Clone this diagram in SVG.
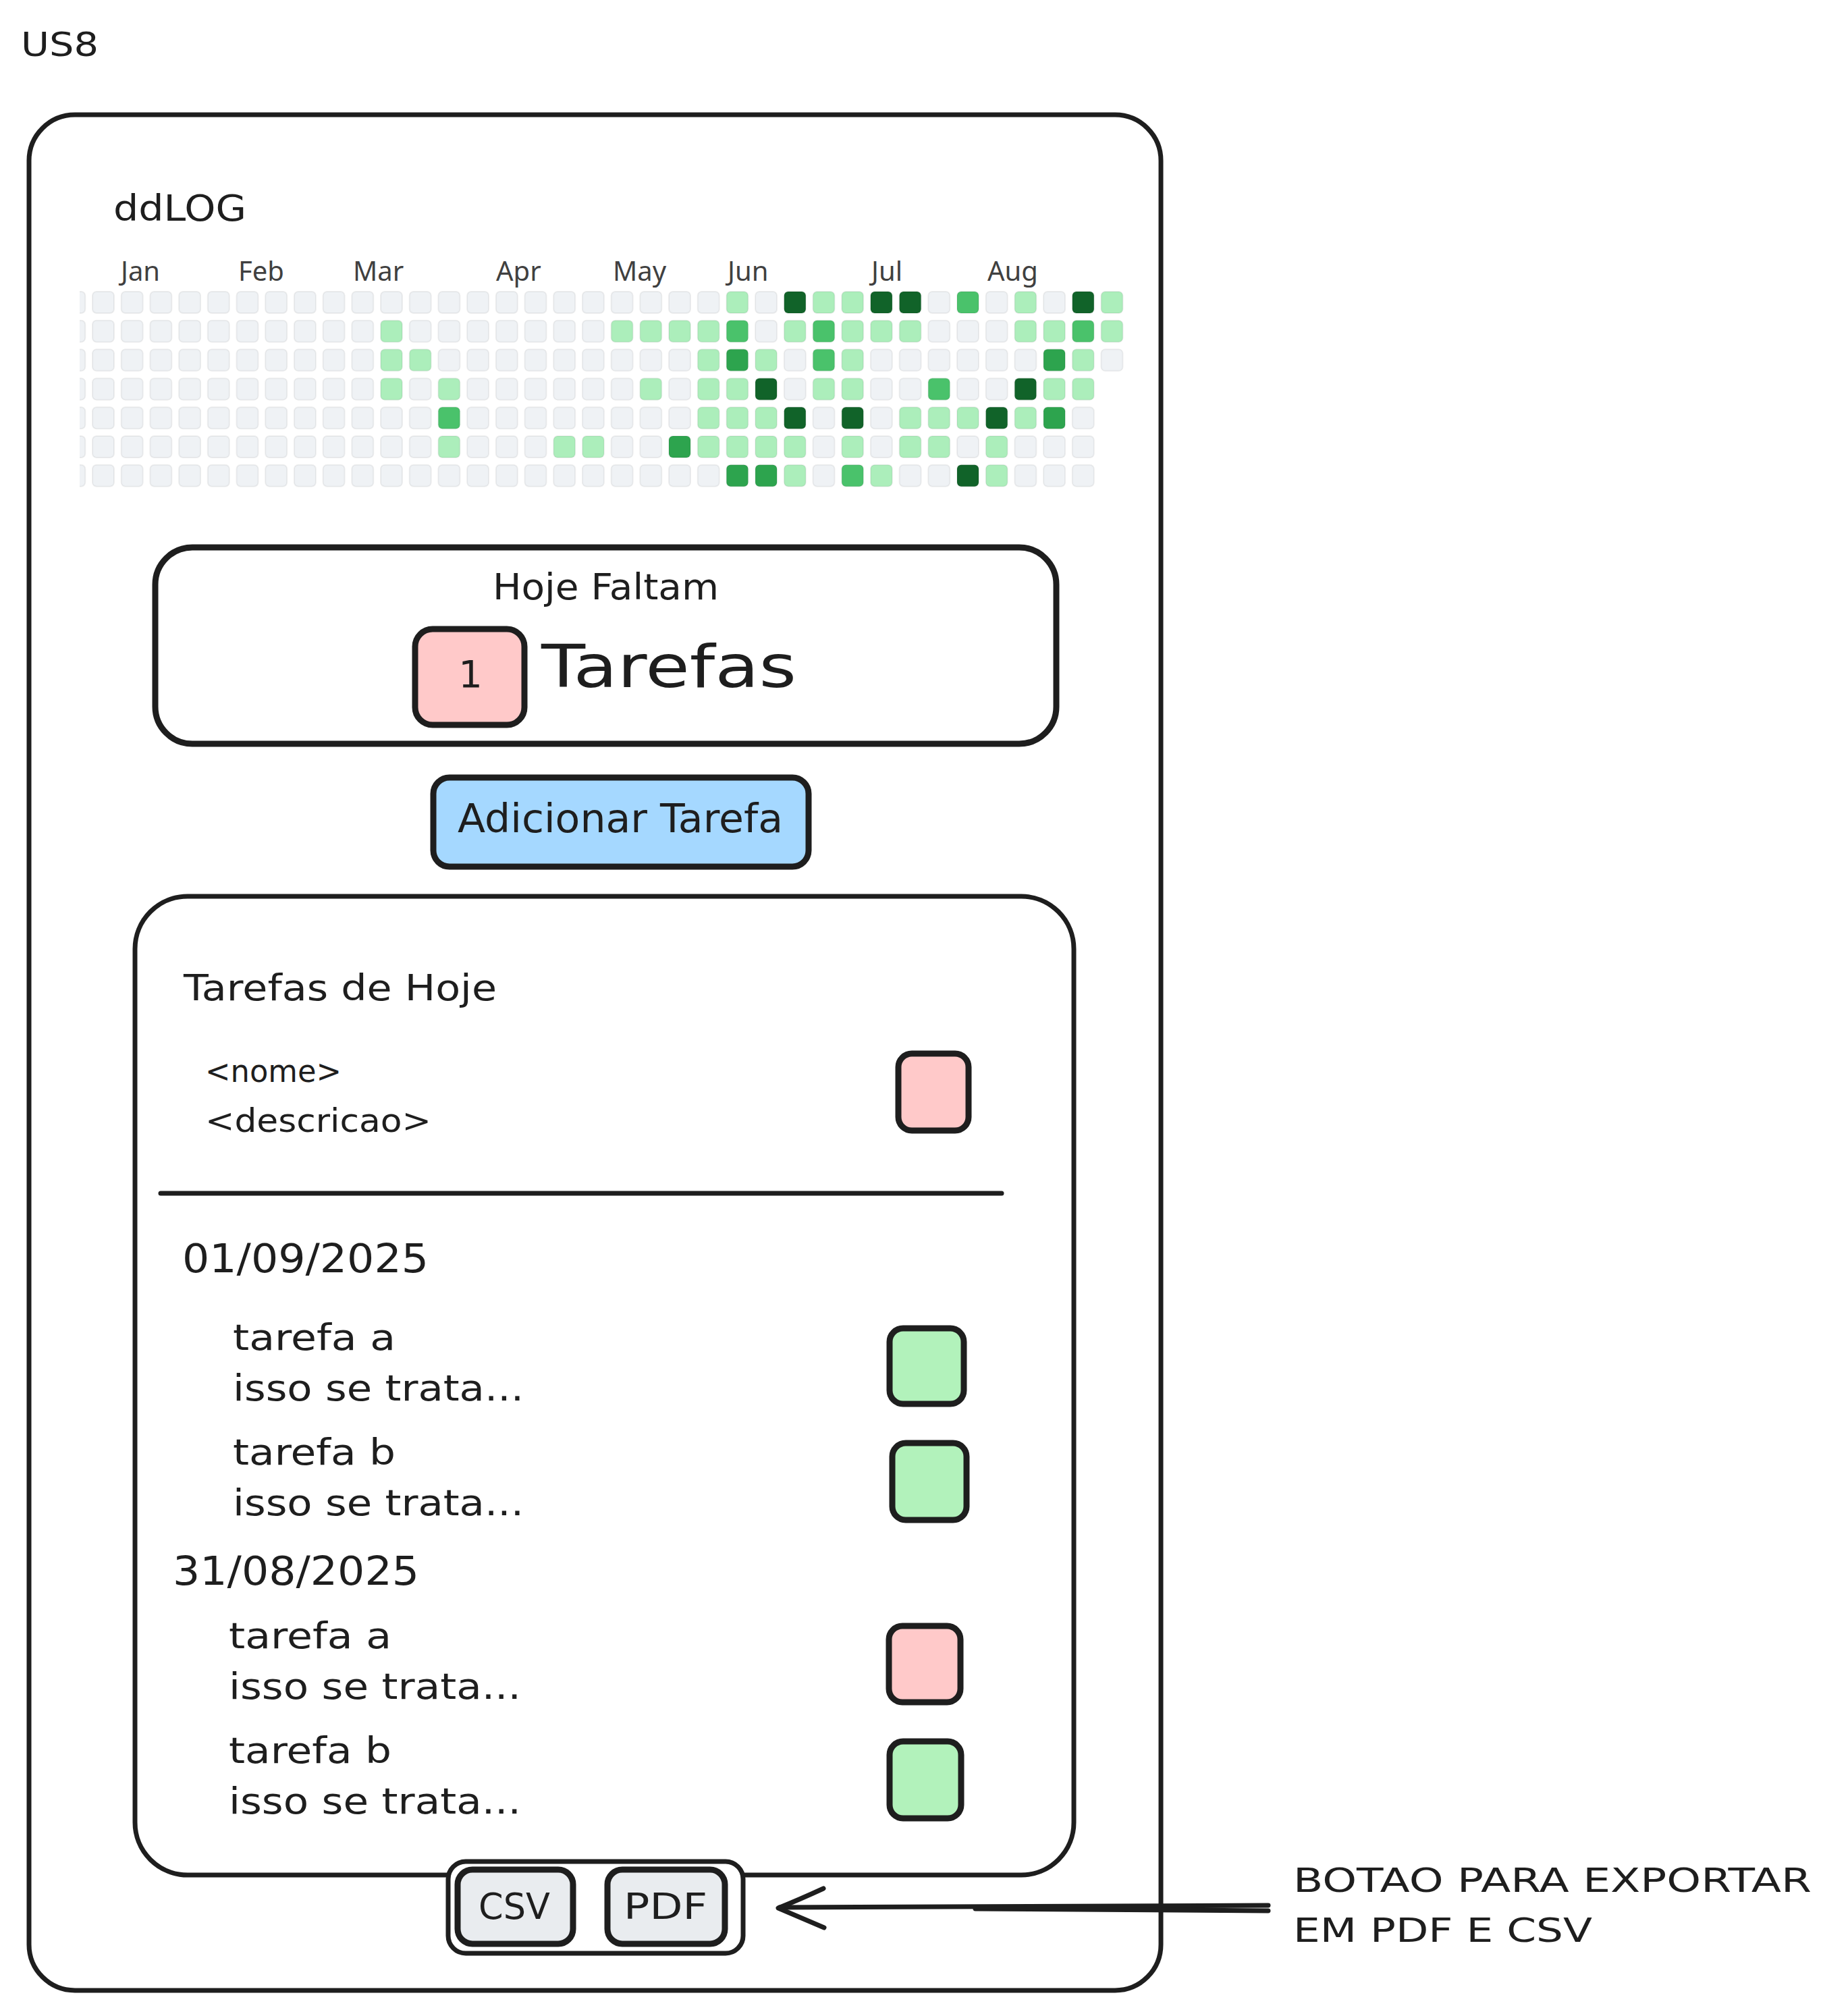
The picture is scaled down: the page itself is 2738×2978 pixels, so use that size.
<svg xmlns="http://www.w3.org/2000/svg" xmlns:xlink="http://www.w3.org/1999/xlink" width="2738" height="2978" viewBox="0 0 2738 2978">
<style>
.hand{font-family:"DejaVu Sans","Liberation Sans",sans-serif;fill:#1e1e1e}
.month{font-family:"Noto Sans","Liberation Sans",sans-serif;font-size:40px;fill:#404040}
.box{stroke:#1e1e1e;stroke-width:7;stroke-linejoin:round}
.thick{stroke-width:9}
.pink{fill:#ffc9c9}
.green{fill:#b2f2bb}
.blue{fill:#a5d8ff}
.grey{fill:#e9ecef}
.white{fill:#ffffff}
.c1{fill:#aceebb}
.c2{fill:#4ac26b}
.c3{fill:#2da44e}
.c4{fill:#116329}
.conn{stroke:#1e1e1e;stroke-width:7;fill:none;stroke-linecap:round;stroke-linejoin:round}
</style>
<defs>
<rect id="cell" width="32" height="32" rx="6" stroke="#000000" stroke-opacity="0.06" stroke-width="2"/>
<clipPath id="hmclip"><rect x="118" y="420" width="1600" height="320"/></clipPath>
</defs>
<rect x="0" y="0" width="2738" height="2978" fill="#ffffff"/>

<g id="title">
<text class="hand" x="31" y="83" font-size="50" textLength="115" lengthAdjust="spacingAndGlyphs">US8</text>
</g>

<g id="frame">
<rect class="box white" x="43" y="170" width="1677" height="2779" rx="68"/>
</g>

<g id="app-name">
<text class="hand" x="168" y="327" font-size="54" textLength="197" lengthAdjust="spacingAndGlyphs">ddLOG</text>
</g>

<g id="heatmap">
<g id="months">
<text class="month" x="179" y="416">Jan</text>
<text class="month" x="353" y="416">Feb</text>
<text class="month" x="523" y="416">Mar</text>
<text class="month" x="735" y="416">Apr</text>
<text class="month" x="908" y="416">May</text>
<text class="month" x="1078" y="416">Jun</text>
<text class="month" x="1291" y="416">Jul</text>
<text class="month" x="1463" y="416">Aug</text>
</g>
<g clip-path="url(#hmclip)" fill="#eff2f5">
<g transform="translate(0,432)">
<use href="#cell" x="94.3"/><use href="#cell" x="137"/><use href="#cell" x="179.7"/><use href="#cell" x="222.4"/><use href="#cell" x="265.1"/><use href="#cell" x="307.8"/><use href="#cell" x="350.5"/><use href="#cell" x="393.2"/><use href="#cell" x="435.9"/><use href="#cell" x="478.6"/><use href="#cell" x="521.3"/><use href="#cell" x="564"/><use href="#cell" x="606.7"/><use href="#cell" x="649.4"/><use href="#cell" x="692.1"/><use href="#cell" x="734.8"/><use href="#cell" x="777.5"/><use href="#cell" x="820.2"/><use href="#cell" x="862.9"/><use href="#cell" x="905.6"/><use href="#cell" x="948.3"/><use href="#cell" x="991"/><use href="#cell" x="1033.7"/><use href="#cell" x="1076.4" class="c1"/><use href="#cell" x="1119.1"/><use href="#cell" x="1161.8" class="c4"/><use href="#cell" x="1204.5" class="c1"/><use href="#cell" x="1247.2" class="c1"/><use href="#cell" x="1289.9" class="c4"/><use href="#cell" x="1332.6" class="c4"/><use href="#cell" x="1375.3"/><use href="#cell" x="1418" class="c2"/><use href="#cell" x="1460.7"/><use href="#cell" x="1503.4" class="c1"/><use href="#cell" x="1546.1"/><use href="#cell" x="1588.8" class="c4"/><use href="#cell" x="1631.5" class="c1"/>
</g>
<g transform="translate(0,474.8)">
<use href="#cell" x="94.3"/><use href="#cell" x="137"/><use href="#cell" x="179.7"/><use href="#cell" x="222.4"/><use href="#cell" x="265.1"/><use href="#cell" x="307.8"/><use href="#cell" x="350.5"/><use href="#cell" x="393.2"/><use href="#cell" x="435.9"/><use href="#cell" x="478.6"/><use href="#cell" x="521.3"/><use href="#cell" x="564" class="c1"/><use href="#cell" x="606.7"/><use href="#cell" x="649.4"/><use href="#cell" x="692.1"/><use href="#cell" x="734.8"/><use href="#cell" x="777.5"/><use href="#cell" x="820.2"/><use href="#cell" x="862.9"/><use href="#cell" x="905.6" class="c1"/><use href="#cell" x="948.3" class="c1"/><use href="#cell" x="991" class="c1"/><use href="#cell" x="1033.7" class="c1"/><use href="#cell" x="1076.4" class="c2"/><use href="#cell" x="1119.1"/><use href="#cell" x="1161.8" class="c1"/><use href="#cell" x="1204.5" class="c2"/><use href="#cell" x="1247.2" class="c1"/><use href="#cell" x="1289.9" class="c1"/><use href="#cell" x="1332.6" class="c1"/><use href="#cell" x="1375.3"/><use href="#cell" x="1418"/><use href="#cell" x="1460.7"/><use href="#cell" x="1503.4" class="c1"/><use href="#cell" x="1546.1" class="c1"/><use href="#cell" x="1588.8" class="c2"/><use href="#cell" x="1631.5" class="c1"/>
</g>
<g transform="translate(0,517.6)">
<use href="#cell" x="94.3"/><use href="#cell" x="137"/><use href="#cell" x="179.7"/><use href="#cell" x="222.4"/><use href="#cell" x="265.1"/><use href="#cell" x="307.8"/><use href="#cell" x="350.5"/><use href="#cell" x="393.2"/><use href="#cell" x="435.9"/><use href="#cell" x="478.6"/><use href="#cell" x="521.3"/><use href="#cell" x="564" class="c1"/><use href="#cell" x="606.7" class="c1"/><use href="#cell" x="649.4"/><use href="#cell" x="692.1"/><use href="#cell" x="734.8"/><use href="#cell" x="777.5"/><use href="#cell" x="820.2"/><use href="#cell" x="862.9"/><use href="#cell" x="905.6"/><use href="#cell" x="948.3"/><use href="#cell" x="991"/><use href="#cell" x="1033.7" class="c1"/><use href="#cell" x="1076.4" class="c3"/><use href="#cell" x="1119.1" class="c1"/><use href="#cell" x="1161.8"/><use href="#cell" x="1204.5" class="c2"/><use href="#cell" x="1247.2" class="c1"/><use href="#cell" x="1289.9"/><use href="#cell" x="1332.6"/><use href="#cell" x="1375.3"/><use href="#cell" x="1418"/><use href="#cell" x="1460.7"/><use href="#cell" x="1503.4"/><use href="#cell" x="1546.1" class="c3"/><use href="#cell" x="1588.8" class="c1"/><use href="#cell" x="1631.5"/>
</g>
<g transform="translate(0,560.4)">
<use href="#cell" x="94.3"/><use href="#cell" x="137"/><use href="#cell" x="179.7"/><use href="#cell" x="222.4"/><use href="#cell" x="265.1"/><use href="#cell" x="307.8"/><use href="#cell" x="350.5"/><use href="#cell" x="393.2"/><use href="#cell" x="435.9"/><use href="#cell" x="478.6"/><use href="#cell" x="521.3"/><use href="#cell" x="564" class="c1"/><use href="#cell" x="606.7"/><use href="#cell" x="649.4" class="c1"/><use href="#cell" x="692.1"/><use href="#cell" x="734.8"/><use href="#cell" x="777.5"/><use href="#cell" x="820.2"/><use href="#cell" x="862.9"/><use href="#cell" x="905.6"/><use href="#cell" x="948.3" class="c1"/><use href="#cell" x="991"/><use href="#cell" x="1033.7" class="c1"/><use href="#cell" x="1076.4" class="c1"/><use href="#cell" x="1119.1" class="c4"/><use href="#cell" x="1161.8"/><use href="#cell" x="1204.5" class="c1"/><use href="#cell" x="1247.2" class="c1"/><use href="#cell" x="1289.9"/><use href="#cell" x="1332.6"/><use href="#cell" x="1375.3" class="c2"/><use href="#cell" x="1418"/><use href="#cell" x="1460.7"/><use href="#cell" x="1503.4" class="c4"/><use href="#cell" x="1546.1" class="c1"/><use href="#cell" x="1588.8" class="c1"/>
</g>
<g transform="translate(0,603.2)">
<use href="#cell" x="94.3"/><use href="#cell" x="137"/><use href="#cell" x="179.7"/><use href="#cell" x="222.4"/><use href="#cell" x="265.1"/><use href="#cell" x="307.8"/><use href="#cell" x="350.5"/><use href="#cell" x="393.2"/><use href="#cell" x="435.9"/><use href="#cell" x="478.6"/><use href="#cell" x="521.3"/><use href="#cell" x="564"/><use href="#cell" x="606.7"/><use href="#cell" x="649.4" class="c2"/><use href="#cell" x="692.1"/><use href="#cell" x="734.8"/><use href="#cell" x="777.5"/><use href="#cell" x="820.2"/><use href="#cell" x="862.9"/><use href="#cell" x="905.6"/><use href="#cell" x="948.3"/><use href="#cell" x="991"/><use href="#cell" x="1033.7" class="c1"/><use href="#cell" x="1076.4" class="c1"/><use href="#cell" x="1119.1" class="c1"/><use href="#cell" x="1161.8" class="c4"/><use href="#cell" x="1204.5"/><use href="#cell" x="1247.2" class="c4"/><use href="#cell" x="1289.9"/><use href="#cell" x="1332.6" class="c1"/><use href="#cell" x="1375.3" class="c1"/><use href="#cell" x="1418" class="c1"/><use href="#cell" x="1460.7" class="c4"/><use href="#cell" x="1503.4" class="c1"/><use href="#cell" x="1546.1" class="c3"/><use href="#cell" x="1588.8"/>
</g>
<g transform="translate(0,646)">
<use href="#cell" x="94.3"/><use href="#cell" x="137"/><use href="#cell" x="179.7"/><use href="#cell" x="222.4"/><use href="#cell" x="265.1"/><use href="#cell" x="307.8"/><use href="#cell" x="350.5"/><use href="#cell" x="393.2"/><use href="#cell" x="435.9"/><use href="#cell" x="478.6"/><use href="#cell" x="521.3"/><use href="#cell" x="564"/><use href="#cell" x="606.7"/><use href="#cell" x="649.4" class="c1"/><use href="#cell" x="692.1"/><use href="#cell" x="734.8"/><use href="#cell" x="777.5"/><use href="#cell" x="820.2" class="c1"/><use href="#cell" x="862.9" class="c1"/><use href="#cell" x="905.6"/><use href="#cell" x="948.3"/><use href="#cell" x="991" class="c3"/><use href="#cell" x="1033.7" class="c1"/><use href="#cell" x="1076.4" class="c1"/><use href="#cell" x="1119.1" class="c1"/><use href="#cell" x="1161.8" class="c1"/><use href="#cell" x="1204.5"/><use href="#cell" x="1247.2" class="c1"/><use href="#cell" x="1289.9"/><use href="#cell" x="1332.6" class="c1"/><use href="#cell" x="1375.3" class="c1"/><use href="#cell" x="1418"/><use href="#cell" x="1460.7" class="c1"/><use href="#cell" x="1503.4"/><use href="#cell" x="1546.1"/><use href="#cell" x="1588.8"/>
</g>
<g transform="translate(0,688.8)">
<use href="#cell" x="94.3"/><use href="#cell" x="137"/><use href="#cell" x="179.7"/><use href="#cell" x="222.4"/><use href="#cell" x="265.1"/><use href="#cell" x="307.8"/><use href="#cell" x="350.5"/><use href="#cell" x="393.2"/><use href="#cell" x="435.9"/><use href="#cell" x="478.6"/><use href="#cell" x="521.3"/><use href="#cell" x="564"/><use href="#cell" x="606.7"/><use href="#cell" x="649.4"/><use href="#cell" x="692.1"/><use href="#cell" x="734.8"/><use href="#cell" x="777.5"/><use href="#cell" x="820.2"/><use href="#cell" x="862.9"/><use href="#cell" x="905.6"/><use href="#cell" x="948.3"/><use href="#cell" x="991"/><use href="#cell" x="1033.7"/><use href="#cell" x="1076.4" class="c3"/><use href="#cell" x="1119.1" class="c3"/><use href="#cell" x="1161.8" class="c1"/><use href="#cell" x="1204.5"/><use href="#cell" x="1247.2" class="c2"/><use href="#cell" x="1289.9" class="c1"/><use href="#cell" x="1332.6"/><use href="#cell" x="1375.3"/><use href="#cell" x="1418" class="c4"/><use href="#cell" x="1460.7" class="c1"/><use href="#cell" x="1503.4"/><use href="#cell" x="1546.1"/><use href="#cell" x="1588.8"/>
</g>
</g>
</g>

<g id="summary-card">
<rect class="box thick white" x="230" y="811" width="1335" height="291" rx="55"/>
<text class="hand" x="730" y="888" font-size="54" textLength="335" lengthAdjust="spacingAndGlyphs">Hoje Faltam</text>
<text class="hand" x="802" y="1018" font-size="88" textLength="378" lengthAdjust="spacingAndGlyphs">Tarefas</text>
</g>

<g id="count-badge">
<rect class="box thick pink" x="615" y="932" width="162" height="142" rx="26"/>
<text class="hand" x="697" y="1018" font-size="56" text-anchor="middle">1</text>
</g>

<g id="add-button">
<rect class="box thick blue" x="642" y="1152" width="556" height="132" rx="24"/>
<text class="hand" x="678" y="1233" font-size="58" textLength="482" lengthAdjust="spacingAndGlyphs">Adicionar Tarefa</text>
</g>

<g id="tasks-panel">
<rect class="box white" x="200" y="1328" width="1391" height="1450" rx="78"/>
<text class="hand" x="272" y="1482" font-size="54" textLength="464" lengthAdjust="spacingAndGlyphs">Tarefas de Hoje</text>
</g>

<g id="today-task">
<text class="hand" x="304" y="1603" font-size="46" textLength="202" lengthAdjust="spacingAndGlyphs">&lt;nome&gt;</text>
<text class="hand" x="304" y="1677" font-size="48" textLength="335" lengthAdjust="spacingAndGlyphs">&lt;descricao&gt;</text>
<rect class="box thick pink" x="1331" y="1561" width="104" height="114" rx="20"/>
</g>

<g id="divider">
<line x1="238" y1="1768" x2="1484" y2="1768" stroke="#1e1e1e" stroke-width="7" stroke-linecap="round"/>
</g>

<g id="day-01-09-2025">
<text class="hand" x="270" y="1885" font-size="58" textLength="365" lengthAdjust="spacingAndGlyphs">01/09/2025</text>
</g>

<g id="task-0109-a">
<text class="hand" x="345" y="2000" font-size="54" textLength="241" lengthAdjust="spacingAndGlyphs">tarefa a</text>
<text class="hand" x="345" y="2075" font-size="54" textLength="431" lengthAdjust="spacingAndGlyphs">isso se trata...</text>
<rect class="box thick green" x="1318" y="1968" width="110" height="112" rx="20"/>
</g>

<g id="task-0109-b">
<text class="hand" x="345" y="2170" font-size="54" textLength="241" lengthAdjust="spacingAndGlyphs">tarefa b</text>
<text class="hand" x="345" y="2245" font-size="54" textLength="431" lengthAdjust="spacingAndGlyphs">isso se trata...</text>
<rect class="box thick green" x="1322" y="2138" width="110" height="114" rx="20"/>
</g>

<g id="day-31-08-2025">
<text class="hand" x="256" y="2348" font-size="58" textLength="365" lengthAdjust="spacingAndGlyphs">31/08/2025</text>
</g>

<g id="task-3108-a">
<text class="hand" x="339" y="2442" font-size="54" textLength="241" lengthAdjust="spacingAndGlyphs">tarefa a</text>
<text class="hand" x="339" y="2517" font-size="54" textLength="433" lengthAdjust="spacingAndGlyphs">isso se trata...</text>
<rect class="box thick pink" x="1317" y="2409" width="106" height="113" rx="20"/>
</g>

<g id="task-3108-b">
<text class="hand" x="339" y="2612" font-size="54" textLength="241" lengthAdjust="spacingAndGlyphs">tarefa b</text>
<text class="hand" x="339" y="2687" font-size="54" textLength="433" lengthAdjust="spacingAndGlyphs">isso se trata...</text>
<rect class="box thick green" x="1318" y="2580" width="106" height="114" rx="20"/>
</g>

<g id="export-group">
<rect class="box white" x="664" y="2758" width="437" height="136" rx="26" stroke-width="8"/>
</g>

<g id="csv-button">
<rect class="box thick grey" x="678" y="2770" width="171" height="110" rx="22"/>
<text class="hand" x="762" y="2843" font-size="54" text-anchor="middle" textLength="106" lengthAdjust="spacingAndGlyphs">CSV</text>
</g>

<g id="pdf-button">
<rect class="box thick grey" x="900" y="2770" width="174" height="110" rx="22"/>
<text class="hand" x="986" y="2843" font-size="54" text-anchor="middle" textLength="124" lengthAdjust="spacingAndGlyphs">PDF</text>
</g>

<g id="annotation">
<text class="hand" x="1916" y="2803" font-size="50" textLength="768" lengthAdjust="spacingAndGlyphs">BOTAO PARA EXPORTAR</text>
<text class="hand" x="1916" y="2877" font-size="50" textLength="443" lengthAdjust="spacingAndGlyphs">EM PDF E CSV</text>
</g>

<g id="connectors">
<path class="conn" d="M1879,2823 C1600,2824 1350,2825 1155,2826"/>
<path class="conn" d="M1879,2831 C1700,2830 1550,2829 1445,2828"/>
<path class="conn" d="M1220,2798 Q1183,2815 1153,2827 Q1186,2841 1221,2856"/>
</g>
</svg>
